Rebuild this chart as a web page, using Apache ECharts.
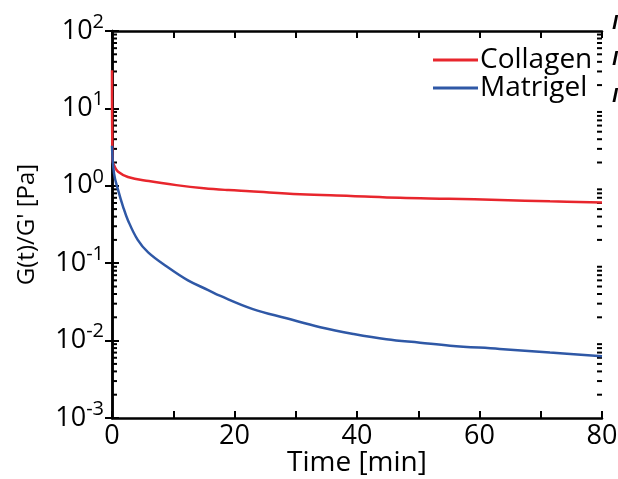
<!DOCTYPE html>
<html>
<head>
<meta charset="utf-8">
<script src="https://cdn.jsdelivr.net/npm/echarts@6/dist/echarts.min.js"></script>
<style>
  html, body { margin: 0; padding: 0; background: #fff; }
  #chart { width: 618px; height: 479px; }
</style>
</head>
<body>
<div id="chart"></div>
<script>
// 读图得到的数据 (时间 min, 模量比 Pa)
const collagenTime = [0, 0.08, 0.44, 1, 2.6, 6, 10.5, 15, 19, 22.5, 30.7, 39, 47, 55, 63.3, 71.5, 80]
const collagenValue = [31, 2.15, 1.77, 1.52, 1.3, 1.15, 1.02, 0.93, 0.88, 0.85, 0.78, 0.74, 0.70, 0.68, 0.656, 0.63, 0.61]

const matrigelTime = [0, 0.33, 1, 1.8, 2.6, 4.2, 5.9, 9, 12.4, 15.7, 17.6, 23, 28.5, 34, 39.4, 44.8, 50.3, 55.2, 63.3, 71.5, 80]
const matrigelValue = [3.3, 1.45, 0.88, 0.54, 0.36, 0.2, 0.138, 0.09, 0.06, 0.045, 0.038, 0.0255, 0.0194, 0.0149, 0.0122, 0.0104, 0.0094, 0.0086, 0.0078, 0.0070, 0.0063]

const seriesNames = ['Collagen', 'Matrigel']
const seriesColors = ['#e8262d', '#2f58a6']

// 右侧被裁掉的邻图文字
const edgeLetters = ['I', 'I', 'I']

// 对数轴的次刻度 (2..9 × 10^n)
const minorTicks = []
for (let n = -3; n <= 1; n++) {
  for (let k = 2; k <= 9; k++) minorTicks.push([0, k * Math.pow(10, n)])
}

const font = '"Open Sans", "Noto Sans", sans-serif'
const chart = echarts.init(document.getElementById('chart'))

const pair = (xs, ys) => xs.map((x, i) => [x, ys[i]])

const logAxisBase = {
  type: 'log',
  logBase: 10,
  min: 0.001,
  max: 100,
  axisLine: { lineStyle: { color: '#000', width: 2.5 } },
  axisTick: { inside: true, length: 7, lineStyle: { color: '#000', width: 2 } },
  splitLine: { show: false }
}

const linAxisBase = {
  type: 'value',
  min: 0,
  max: 80,
  interval: 10,
  axisLine: { lineStyle: { color: '#000', width: 2.5 } },
  axisTick: { inside: true, length: 7, lineStyle: { color: '#000', width: 2 } },
  splitLine: { show: false }
}

const option = {
  backgroundColor: '#ffffff',
  animation: false,
  grid: { left: 112, right: 16, top: 31, bottom: 61, outerBoundsMode: 'none' },
  legend: {
    data: seriesNames.map(name => ({ name, icon: 'rect' })),
    orient: 'vertical',
    left: 428,
    top: 41,
    itemWidth: 45,
    itemHeight: 3,
    itemGap: 0,
    textStyle: { fontFamily: font, fontSize: 28, color: '#000', padding: [0, 0, 0, -3] }
  },
  graphic: edgeLetters.map((t, i) => ({
    type: 'text',
    left: 612,
    top: 14 + i * 36.5,
    silent: true,
    style: {
      text: t,
      font: 'italic bold 19px ' + font,
      fill: '#000'
    }
  })),
  xAxis: [
    Object.assign({}, linAxisBase, {
      position: 'bottom',
      name: 'Time [min]',
      nameLocation: 'middle',
      nameGap: 31,
      nameMoveOverlap: false,
      nameTextStyle: { fontFamily: font, fontSize: 28, color: '#000' },
      axisLabel: {
        fontFamily: font,
        fontSize: 27,
        color: '#000',
        margin: 5,
        formatter: v => (v % 20 === 0 ? String(v) : '')
      }
    }),
    Object.assign({}, linAxisBase, {
      position: 'top',
      axisLabel: { show: false }
    })
  ],
  yAxis: [
    Object.assign({}, logAxisBase, {
      position: 'left',
      name: "G(t)/G' [Pa]",
      nameLocation: 'middle',
      nameGap: 73,
      nameMoveOverlap: false,
      nameTextStyle: { fontFamily: font, fontSize: 24, color: '#000' },
      axisLabel: {
        margin: 8,
        formatter: v => '{b|10}{s|' + Math.round(Math.log10(v)) + '}',
        rich: {
          b: { fontFamily: font, fontSize: 27, color: '#000' },
          s: { fontFamily: font, fontSize: 20, color: '#000', padding: [0, 0, 18, 0] }
        }
      }
    }),
    Object.assign({}, logAxisBase, {
      position: 'right',
      axisLabel: { show: false }
    })
  ],
  series: [
    {
      name: seriesNames[0],
      type: 'line',
      data: pair(collagenTime, collagenValue),
      showSymbol: false,
      smooth: 0.4,
      lineStyle: { color: seriesColors[0], width: 2.5 },
      itemStyle: { color: seriesColors[0] }
    },
    {
      name: seriesNames[1],
      type: 'line',
      data: pair(matrigelTime, matrigelValue),
      showSymbol: false,
      smooth: 0.4,
      lineStyle: { color: seriesColors[1], width: 2.5 },
      itemStyle: { color: seriesColors[1] }
    },
    {
      // 左右两侧的次刻度
      type: 'custom',
      silent: true,
      data: minorTicks,
      renderItem: (params, api) => {
        const p0 = api.coord([0, api.value(1)])
        const p1 = api.coord([80, api.value(1)])
        const style = { stroke: '#000', lineWidth: 2 }
        return {
          type: 'group',
          children: [
            { type: 'line', shape: { x1: p0[0], y1: p0[1], x2: p0[0] + 5, y2: p0[1] }, style },
            { type: 'line', shape: { x1: p1[0], y1: p1[1], x2: p1[0] - 5, y2: p1[1] }, style }
          ]
        }
      }
    }
  ]
}

chart.setOption(option)
</script>
</body>
</html>
